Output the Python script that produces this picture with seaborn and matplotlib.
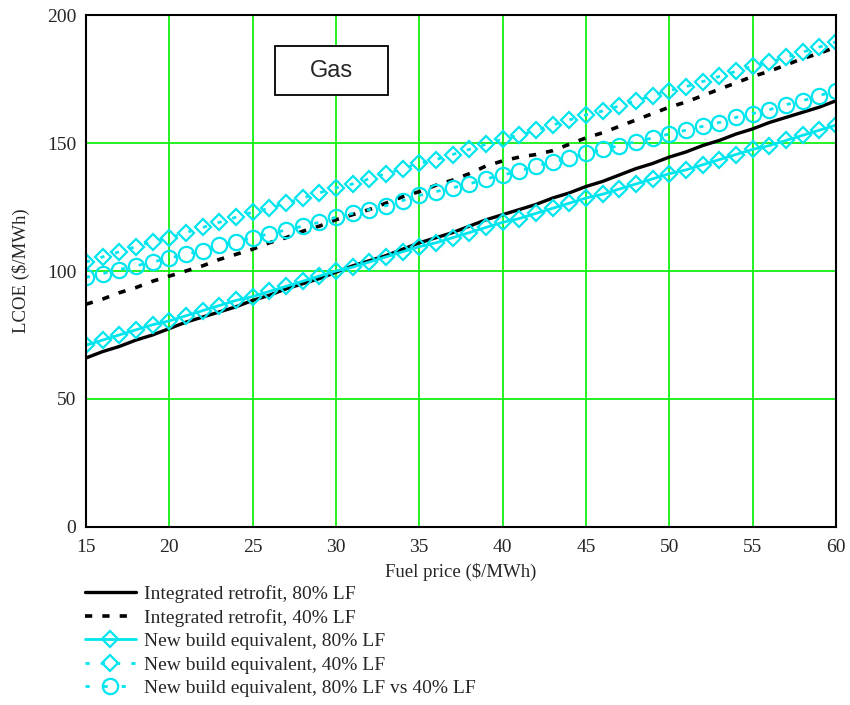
import numpy as np
import pandas as pd
import matplotlib
matplotlib.use("Agg")
import matplotlib.pyplot as plt
import matplotlib.patches as patches
import seaborn as sns

fuel_price = list(range(15, 61))

retrofit_80 = [66, 68.5, 70.5, 73, 75, 77.5, 80, 82, 84, 86,
               88.5, 90.5, 93, 95, 97, 99.5, 102, 104, 106, 108.5,
               111, 113, 115, 117.5, 120, 122, 124, 126, 128.5, 130.5,
               133, 135, 137.5, 140, 142, 144.5, 146.5, 149, 151, 153.5,
               155.5, 158, 160, 162, 164, 166.5]
retrofit_40 = [87, 89, 91.5, 93.5, 96, 98, 100, 102, 104.5, 106.5,
               108.5, 111, 113, 115.5, 117.5, 120, 122, 124, 126.5, 129,
               131, 133.5, 135.5, 138, 141, 143, 144.5, 145.5, 147, 149.5,
               152, 154, 156.5, 159, 161.5, 164, 166, 168.5, 171, 173.5,
               176, 178, 180.5, 183, 185, 187.5]
newbuild_80 = [71, 73, 75, 77, 79, 80.5, 82.5, 84.5, 86.5, 88.5,
               90, 92, 94, 96, 98, 100, 101.5, 103.5, 105.5, 107.5,
               109.5, 111, 113, 115, 117, 119, 120.5, 122.5, 124.5, 126.5,
               128.5, 130, 132, 134, 136, 138, 139.5, 141.5, 143.5, 145.5,
               147.5, 149, 151, 153, 155, 157]
newbuild_40 = [103.5, 105.5, 107.5, 109.5, 111.5, 113, 115, 117, 119, 121,
               123, 124.5, 126.5, 128.5, 130.5, 132.5, 134, 136, 138, 140,
               142, 143.5, 145.5, 147.5, 149.5, 151.5, 153, 155, 157, 159,
               161, 162.5, 164.5, 166.5, 168.5, 170.5, 172, 174, 176, 178,
               180, 181.5, 183.5, 185.5, 187.5, 189.5]
newbuild_80v40 = [97.5, 99, 100.5, 102, 103.5, 105, 106.5, 108, 110, 111.5,
                  113, 114.5, 116, 117.5, 119, 121, 122.5, 124, 125.5, 127.5,
                  129.5, 131, 132.5, 134, 136, 137.5, 139, 141, 142.5, 144,
                  146, 147.5, 149, 150.5, 152, 153.5, 155, 156.5, 158, 160,
                  161.5, 163, 165, 166.5, 168.5, 170.5]

series_labels = ["Integrated retrofit, 80% LF",
                 "Integrated retrofit, 40% LF",
                 "New build equivalent, 80% LF",
                 "New build equivalent, 40% LF",
                 "New build equivalent, 80% LF vs 40% LF"]

x_ticks = [15, 20, 25, 30, 35, 40, 45, 50, 55, 60]
y_ticks = [0, 50, 100, 150, 200]

sns.set_style("white")
plt.rcParams["font.family"] = ["Liberation Serif", "DejaVu Serif"]

fig = plt.figure(figsize=(8.5, 7.05), dpi=100)
ax = fig.add_axes([0.101, 0.2525, 0.8825, 0.7262])

cyan = "#00e5ee"
styles = [
    dict(color="black", linewidth=2.4),
    dict(color="black", linewidth=2.6, linestyle=(0, (2, 2.8))),
    dict(color=cyan, linewidth=2.0, marker="D", markersize=8.5,
         markerfacecolor="none", markeredgecolor=cyan, markeredgewidth=1.6),
    dict(color=cyan, linewidth=2.0, linestyle=(0, (1.5, 4)), marker="D", markersize=8.5,
         markerfacecolor="none", markeredgecolor=cyan, markeredgewidth=1.6),
    dict(color=cyan, linewidth=2.0, linestyle=(0, (1.5, 5)), marker="o", markersize=11,
         markerfacecolor="none", markeredgecolor=cyan, markeredgewidth=1.6),
]
all_series = [retrofit_80, retrofit_40, newbuild_80, newbuild_40, newbuild_80v40]

for values, label, st in zip(all_series, series_labels, styles):
    sns.lineplot(x=fuel_price, y=values, ax=ax, label=label, **st)

ax.set_xlim(15, 60)
ax.set_ylim(0, 200)
ax.set_xticks(x_ticks)
ax.set_yticks(y_ticks)
ax.grid(True, color="#00ee00", linewidth=1.2)
ax.set_axisbelow(True)
for sp in ax.spines.values():
    sp.set_color("black")
    sp.set_linewidth(1.5)
ax.tick_params(axis="x", length=0, labelsize=14, pad=9)
ax.tick_params(axis="y", length=0, labelsize=14, pad=7)

ax.set_xlabel("Fuel price (\\$/MWh)", fontsize=13.5, labelpad=5)
ax.set_ylabel("LCOE (\\$/MWh)", fontsize=13.5, labelpad=12)

# "Gas" box
ax.add_patch(patches.Rectangle((0.252, 0.8438), 0.1507, 0.0957, transform=ax.transAxes,
                               facecolor="white", edgecolor="black", linewidth=1.3, zorder=5))
ax.text(0.327, 0.8916, "Gas", transform=ax.transAxes, ha="center", va="center",
        fontsize=17, family=["Liberation Sans", "DejaVu Sans"], zorder=6)

handles, labels = ax.get_legend_handles_labels()
ax.get_legend().remove()
fig.legend(handles, labels, loc="upper left", bbox_to_anchor=(0.1, 0.17),
           frameon=False, fontsize=14, handlelength=2.6, handletextpad=0.45,
           labelspacing=0.3, borderpad=0, borderaxespad=0)

fig.savefig("out.png", dpi=100)
